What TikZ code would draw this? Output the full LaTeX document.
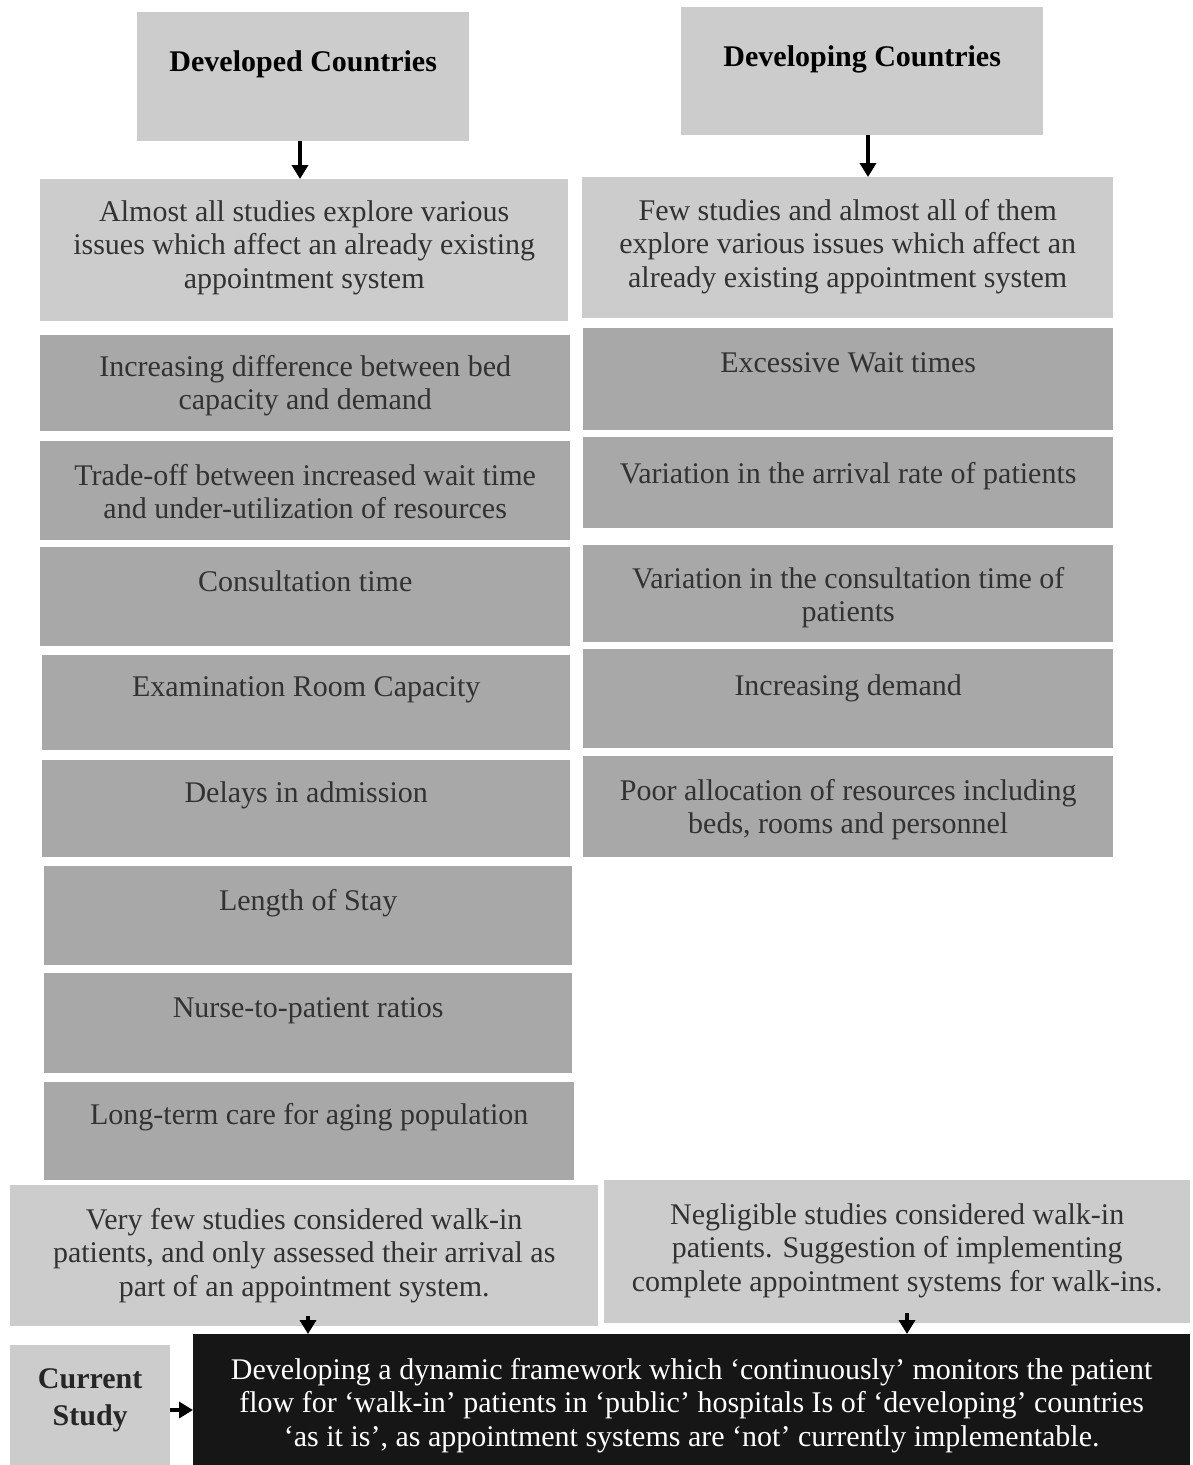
\documentclass[tikz,border=0pt]{standalone}
\usepackage{fontspec}
\setmainfont{Liberation Serif}
\usetikzlibrary{arrows.meta}

\definecolor{paleGray}{RGB}{204,204,204}
\definecolor{midGray}{RGB}{168,168,168}
\definecolor{nightFill}{RGB}{22,22,22}
\definecolor{bodyInk}{RGB}{50,50,50}

% #1 name, #2 box style, #3 text style, #4-#7 corners (x1,y1,x2,y2),
% #8 drop of the text below the top edge, #9 text
\newcommand\panel[9]{%
  \node[#2, anchor=north west, minimum width={#6-#4}, minimum height={#7-#5}] (#1) at (#4,#5) {};
  \node[#3, anchor=north] (#1-t) at ([yshift=-#8pt]#1.north) {#9};
}

\begin{document}
\begin{tikzpicture}[x=1pt,y=-1pt,
  pale/.style={rectangle, fill=paleGray, draw=none, inner sep=0pt},
  mid/.style={rectangle, fill=midGray, draw=none, inner sep=0pt},
  night/.style={rectangle, fill=nightFill, draw=none, inner sep=0pt},
  bodytext/.style={font=\fontsize{30}{33.5}\selectfont, text=bodyInk, align=center, inner sep=0pt},
  headtext/.style={font=\fontsize{30}{34}\selectfont\bfseries, text=black, align=center, inner sep=0pt},
  studytext/.style={font=\fontsize{30}{37}\selectfont\bfseries, text=black!85, align=center, inner sep=0pt},
  nighttext/.style={font=\fontsize{30}{33.5}\selectfont, text=white, align=center, inner sep=0pt},
  link/.style={-{Triangle[width=16pt,length=14pt]}, line width=3.6pt, black}]

\useasboundingbox[fill=white] (0,0) rectangle (1193,1465);

% ---- left column: developed countries
\panel{devd}{pale}{headtext}{137}{12}{469}{141}{38}{Developed Countries}
\panel{almost}{pale}{bodytext}{40}{179}{568}{321}{21}{Almost all studies explore various\\issues which affect an already existing\\appointment system}
\panel{bed}{mid}{bodytext}{40}{335}{570}{431}{20}{Increasing difference between bed\\capacity and demand}
\panel{trade}{mid}{bodytext}{40}{441}{570}{540}{23}{Trade-off between increased wait time\\and under-utilization of resources}
\panel{consult}{mid}{bodytext}{40}{547}{570}{646}{23}{Consultation time}
\panel{exam}{mid}{bodytext}{42}{655}{570}{750}{21}{Examination Room Capacity}
\panel{delay}{mid}{bodytext}{42}{760}{570}{857}{21}{Delays in admission}
\panel{stay}{mid}{bodytext}{44}{866}{572}{965}{23}{Length of Stay}
\panel{nurse}{mid}{bodytext}{44}{973}{572}{1073}{24}{Nurse-to-patient ratios}
\panel{aging}{mid}{bodytext}{44}{1082}{574}{1180}{21}{Long-term care for aging population}
\panel{vfew}{pale}{bodytext}{10}{1185}{598}{1326}{23}{Very few studies considered walk-in\\patients, and only assessed their arrival as\\part of an appointment system.}

% ---- right column: developing countries
\panel{devg}{pale}{headtext}{681}{7}{1043}{135}{38}{Developing Countries}
\panel{few}{pale}{bodytext}{582}{177}{1113}{318}{22}{Few studies and almost all of them\\explore various issues which affect an\\already existing appointment system}
\panel{wait}{mid}{bodytext}{583}{328}{1113}{430}{24}{Excessive Wait times}
\panel{arrive}{mid}{bodytext}{583}{437}{1113}{528}{25}{Variation in the arrival rate of patients}
\panel{vconsult}{mid}{bodytext}{583}{545}{1113}{642}{22}{Variation in the consultation time of\\patients}
\panel{demand}{mid}{bodytext}{583}{649}{1113}{748}{25}{Increasing demand}
\panel{alloc}{mid}{bodytext}{583}{756}{1113}{857}{23}{Poor allocation of resources including\\beds, rooms and personnel}
\panel{neg}{pale}{bodytext}{604}{1180}{1190}{1323}{23}{Negligible studies considered walk-in\\patients. Suggestion of implementing\\complete appointment systems for walk-ins.}

% ---- bottom row: current study
\panel{cur}{pale}{studytext}{10}{1345}{170}{1465}{23}{Current\\Study}
\panel{frame}{night}{nighttext}{193}{1334}{1190}{1465}{24}{Developing a dynamic framework which ‘continuously’ monitors the patient\\flow for ‘walk-in’ patients in ‘public’ hospitals Is of ‘developing’ countries\\‘as it is’, as appointment systems are ‘not’ currently implementable.}

% ---- connectors
\draw[link] (devd.south -| 300,0) -- (almost.north -| 300,0);
\draw[link] (devg.south -| 868,0) -- (few.north -| 868,0);
\draw[link] ([yshift=10pt]vfew.south -| 308,0) -- (frame.north -| 308,0);
\draw[link] ([yshift=10pt]neg.south -| 907,0) -- (frame.north -| 907,0);
\draw[link] (cur.east |- 0,1410) -- (frame.west |- 0,1410);
\end{tikzpicture}
\end{document}
